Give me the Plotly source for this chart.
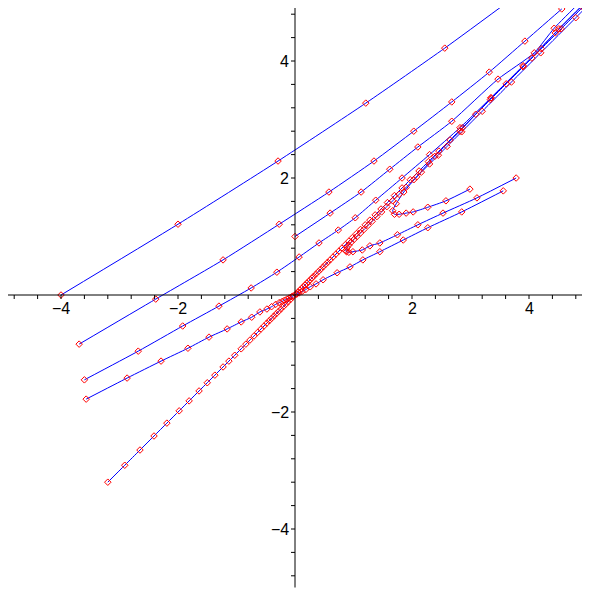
import plotly.graph_objects as go

# ---- solution curves (x, y) ----
c1_x = [-4.0, -2.0, -0.29, 1.21, 2.56, 3.8]
c1_y = [0.0, 1.21, 2.29, 3.28, 4.22, 5.13]

c2_x = [-3.69, -2.38, -1.23, -0.27, 0.58, 1.35, 2.03, 2.68, 3.32, 3.93, 4.56]
c2_y = [-0.84, -0.07, 0.60, 1.21, 1.76, 2.29, 2.80, 3.30, 3.81, 4.34, 4.89]

c3_x = [-3.6, -2.68, -1.92, -1.30, -0.75, -0.31, 0.07, 0.41, 0.74, 1.03, 1.38, 1.83, 2.3, 2.82, 3.35, 3.9, 4.45, 5.05]
c3_y = [-1.45, -0.96, -0.53, -0.19, 0.12, 0.39, 0.65, 0.89, 1.11, 1.32, 1.62, 2.0, 2.4, 2.86, 3.37, 3.92, 4.48, 5.08]

c4_x = [0.0, 0.6, 1.13, 1.62, 2.1, 2.68, 3.47, 4.09, 4.43, 5.0]
c4_y = [1.0, 1.4, 1.76, 2.15, 2.53, 2.97, 3.69, 4.14, 4.56, 5.13]

# diagonal: from lower left into the origin, and out along y = x
d1_x = [-3.2, -2.91, -2.65, -2.41, -2.19, -1.98, -1.81, -1.64, -1.50, -1.37, -1.23, -1.13,
        -1.03, -0.92, -0.84, -0.77, -0.70, -0.64, -0.58, -0.53, -0.48, -0.44, -0.40, -0.36,
        -0.32, -0.28, -0.24, -0.20, -0.16, -0.12, -0.08, -0.04]
d1_y = d1_x

d2_x = [0.02, 0.05, 0.08, 0.11, 0.14, 0.17, 0.2, 0.23, 0.26, 0.29, 0.32, 0.36, 0.4, 0.44,
        0.48, 0.52, 0.56, 0.6, 0.65, 0.7, 0.75, 0.8, 0.86, 0.92, 0.98, 1.05, 1.12, 1.2, 1.28,
        1.37, 1.47, 1.58, 1.7, 1.83, 1.97, 2.12, 2.28, 2.46, 2.65, 2.86, 3.09, 3.34, 3.61,
        3.9, 4.21, 4.55, 4.92, 5.3]
d2_y = d2_x

# hooks that come down the diagonal and turn right
h1_x = [5.4, 4.51, 4.05, 3.35, 2.82, 2.39, 2.08, 1.86, 1.73, 1.67, 1.70, 1.78, 1.9, 2.02, 2.27, 2.58, 2.99]
h1_y = [5.44, 4.55, 4.05, 3.37, 2.80, 2.37, 2.02, 1.76, 1.56, 1.44, 1.38, 1.38, 1.40, 1.42, 1.50, 1.61, 1.81]

h2_x = [5.4, 4.8, 4.2, 3.7, 3.2, 2.85, 2.6, 2.45, 2.3, 2.16, 2.03, 1.9, 1.78, 1.67, 1.57, 1.48,
        1.4, 1.32, 1.25, 1.18, 1.12, 1.06, 1.01, 0.96, 0.92, 0.89, 0.87, 0.88, 0.92, 0.99,
        1.15, 1.28, 1.45, 1.75, 2.1, 2.53, 3.11, 3.78]
h2_y = [5.35, 4.74, 4.14, 3.64, 3.14, 2.79, 2.54, 2.39, 2.24, 2.10, 1.97, 1.84, 1.72, 1.61,
        1.51, 1.42, 1.34, 1.26, 1.19, 1.12, 1.06, 1.0, 0.95, 0.9, 0.85, 0.81, 0.76, 0.74, 0.73,
        0.74, 0.77, 0.84, 0.89, 1.03, 1.20, 1.40, 1.66, 2.0]

# lower curve through the origin
h3_x = [-3.57, -2.87, -2.29, -1.83, -1.47, -1.16, -0.92, -0.74, -0.60, -0.48, -0.40, -0.33,
        -0.27, -0.22, -0.18, -0.14, -0.10, -0.06, -0.03, 0.03, 0.07, 0.12, 0.18, 0.26, 0.36,
        0.48, 0.72, 0.94, 1.16, 1.45, 1.85, 2.27, 2.85, 3.56]
h3_y = [-1.78, -1.42, -1.13, -0.91, -0.72, -0.58, -0.46, -0.38, -0.29, -0.24, -0.20, -0.16,
        -0.13, -0.11, -0.09, -0.07, -0.05, -0.03, -0.015, 0.015, 0.035, 0.06, 0.09, 0.14, 0.19,
        0.26, 0.38, 0.48, 0.60, 0.74, 0.94, 1.15, 1.42, 1.78]

curves = [(c1_x, c1_y), (c2_x, c2_y), (c3_x, c3_y), (c4_x, c4_y), (d1_x, d1_y),
          (d2_x, d2_y), (h1_x, h1_y), (h2_x, h2_y), (h3_x, h3_y)]

# axis ticks
minor_ticks = [k * 0.4 for k in range(-12, 13) if k != 0]
tick_labels = [-4, -2, 2, 4]

fig = go.Figure()
for xs, ys in curves:
    fig.add_trace(go.Scatter(
        x=xs, y=ys,
        mode='lines',
        line=dict(color='#0000ff', width=1, shape='spline', smoothing=0.6),
        hoverinfo='skip'
    ))
for xs, ys in curves:
    fig.add_trace(go.Scatter(
        x=xs, y=ys,
        mode='markers',
        marker=dict(symbol='diamond-open', color='#ff0000', size=5, line=dict(width=1)),
        hoverinfo='skip'
    ))

shapes = [
    dict(type='line', x0=-5, x1=5, y0=0, y1=0, line=dict(color='black', width=1)),
    dict(type='line', x0=0, x1=0, y0=-5, y1=5, line=dict(color='black', width=1)),
]
for t in minor_ticks:
    shapes.append(dict(type='line', xref='x', yref='y', x0=t, x1=t,
                       ysizemode='pixel', yanchor=0, y0=0, y1=-4,
                       line=dict(color='black', width=1)))
    shapes.append(dict(type='line', xref='x', yref='y', y0=t, y1=t,
                       xsizemode='pixel', xanchor=0, x0=0, x1=-4,
                       line=dict(color='black', width=1)))

annotations = []
for v in tick_labels:
    lab = str(v).replace('-', '\u2212')
    annotations.append(dict(x=v, y=0, text=lab, showarrow=False, xanchor='center',
                            yanchor='top', yshift=-3, font=dict(size=16, color='black')))
    annotations.append(dict(x=0, y=v, text=lab, showarrow=False, xanchor='right',
                            yanchor='middle', xshift=-4, font=dict(size=16, color='black')))

# page body has an 8px margin, so the ranges are shifted to keep the origin at 295,295
unit = 58.5
fig.update_layout(
    width=590, height=590,
    margin=dict(l=0, r=0, t=0, b=0),
    plot_bgcolor='white', paper_bgcolor='white',
    font=dict(family='Liberation Sans', color='black'),
    showlegend=False,
    xaxis=dict(range=[-287 / unit, 303 / unit], visible=False),
    yaxis=dict(range=[-303 / unit, 287 / unit], visible=False),
    shapes=shapes,
    annotations=annotations
)

fig.write_html("out.html")
